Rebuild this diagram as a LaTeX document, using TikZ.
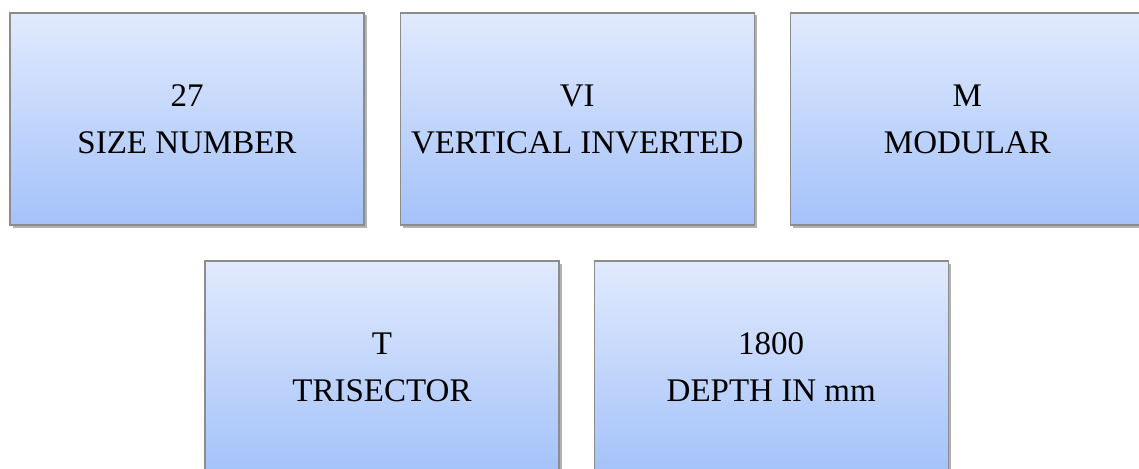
\documentclass[tikz,border=0pt]{standalone}
\usepackage{fontspec}
\setmainfont{Liberation Serif}
\usepackage{xcolor}
\usetikzlibrary{shapes,positioning,shadows}

\definecolor{boxtop}{RGB}{225,234,253}
\definecolor{boxbot}{RGB}{164,194,250}
\definecolor{boxline}{RGB}{140,140,140}

\tikzset{
  codebox/.style={rectangle,draw=boxline,line width=1.2pt,
    top color=boxtop,bottom color=boxbot,
    minimum width=354pt,minimum height=212pt,inner sep=0pt,
    align=center,font=\fontsize{33}{47}\selectfont,
    drop shadow={shadow xshift=2.5pt,shadow yshift=-2.5pt,fill=black,opacity=0.3}}
}

\begin{document}
\begin{tikzpicture}[x=1pt,y=1pt]
  \useasboundingbox (0,0) rectangle (1139,-468);

  \node[codebox] (size) at (187,-119) {27\\SIZE NUMBER};
  \node[codebox,right=35pt of size] (orient) {VI\\VERTICAL INVERTED};
  \node[codebox,right=35pt of orient] (modular) {M\\MODULAR};

  \node[codebox] (trisector) at (382,-367) {T\\TRISECTOR};
  \node[codebox,right=34pt of trisector] (depth) {1800\\DEPTH IN mm};

\end{tikzpicture}
\end{document}
